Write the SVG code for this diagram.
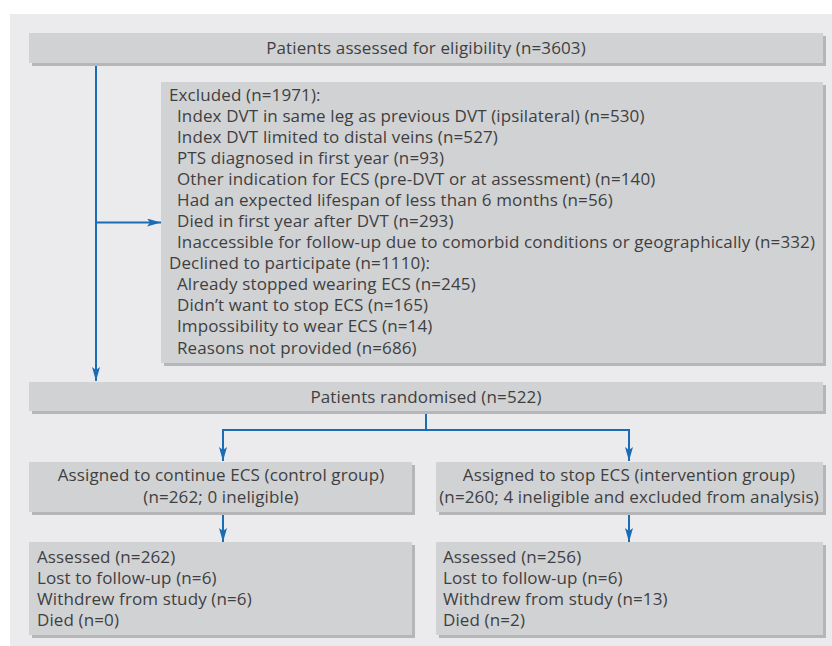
<svg xmlns="http://www.w3.org/2000/svg" width="832" height="646" viewBox="0 0 832 646">
<defs>
<style>
.box{fill:#d1d2d4}
.sh{fill:#b5b6b8}
.t{font-family:"Open Sans","DejaVu Sans",sans-serif;font-size:17px;letter-spacing:0.12px;fill:#3f3f41}
.c{text-anchor:middle}
.ln{fill:none;stroke:#1a6db5;stroke-width:2}
</style>
<marker id="ah" viewBox="0 0 14 8" refX="14" refY="4" markerWidth="14" markerHeight="8" markerUnits="userSpaceOnUse" orient="auto">
<path d="M0,0 L14,4 L0,8 L3,4 Z" fill="#1a6db5"/>
</marker>
</defs>
<rect x="0" y="0" width="832" height="646" fill="#ffffff"/>
<rect x="10" y="14" width="822" height="632" fill="#ebebed"/>

<g id="connectors">
<path class="ln" d="M96,63 V381" marker-end="url(#ah)"/>
<path class="ln" d="M96,222.5 H161" marker-end="url(#ah)"/>
<path class="ln" d="M426,411 V430 H223 V461" marker-end="url(#ah)"/>
<path class="ln" d="M426,430 H629 V461" marker-end="url(#ah)"/>
<path class="ln" d="M223,512 V542" marker-end="url(#ah)"/>
<path class="ln" d="M629,512 V542" marker-end="url(#ah)"/>
</g>

<g id="assessed">
<rect class="sh" x="32" y="36" width="794" height="30"/>
<rect class="box" x="29" y="33" width="794" height="30"/>
<text class="t c" x="426" y="54">Patients assessed for eligibility (n=3603)</text>
</g>

<g id="excluded">
<rect class="sh" x="164" y="85" width="662" height="281"/>
<rect class="box" x="161" y="82" width="662" height="281"/>
<text class="t" x="169" y="101">Excluded (n=1971):</text>
<text class="t" x="177" y="122">Index DVT in same leg as previous DVT (ipsilateral) (n=530)</text>
<text class="t" x="177" y="143">Index DVT limited to distal veins (n=527)</text>
<text class="t" x="177" y="164">PTS diagnosed in first year (n=93)</text>
<text class="t" x="177" y="185">Other indication for ECS (pre-DVT or at assessment) (n=140)</text>
<text class="t" x="177" y="206">Had an expected lifespan of less than 6 months (n=56)</text>
<text class="t" x="177" y="227">Died in first year after DVT (n=293)</text>
<text class="t" x="177" y="248">Inaccessible for follow-up due to comorbid conditions or geographically (n=332)</text>
<text class="t" x="169" y="269">Declined to participate (n=1110):</text>
<text class="t" x="177" y="290">Already stopped wearing ECS (n=245)</text>
<text class="t" x="177" y="311">Didn’t want to stop ECS (n=165)</text>
<text class="t" x="177" y="332">Impossibility to wear ECS (n=14)</text>
<text class="t" x="177" y="354">Reasons not provided (n=686)</text>
</g>

<g id="randomised">
<rect class="sh" x="32" y="385" width="794" height="29"/>
<rect class="box" x="29" y="382" width="794" height="29"/>
<text class="t c" x="426" y="403">Patients randomised (n=522)</text>
</g>

<g id="control">
<rect class="sh" x="32" y="465" width="383" height="50"/>
<rect class="box" x="29" y="462" width="383" height="50"/>
<text class="t c" x="221" y="481">Assigned to continue ECS (control group)</text>
<text class="t c" x="221" y="503">(n=262; 0 ineligible)</text>
</g>

<g id="intervention">
<rect class="sh" x="439" y="465" width="387" height="50"/>
<rect class="box" x="436" y="462" width="387" height="50"/>
<text class="t c" x="629" y="481">Assigned to stop ECS (intervention group)</text>
<text class="t c" x="629" y="503">(n=260; 4 ineligible and excluded from analysis)</text>
</g>

<g id="control-outcome">
<rect class="sh" x="32" y="545" width="383" height="93"/>
<rect class="box" x="29" y="542" width="383" height="93"/>
<text class="t" x="37" y="563">Assessed (n=262)</text>
<text class="t" x="37" y="584">Lost to follow-up (n=6)</text>
<text class="t" x="37" y="605">Withdrew from study (n=6)</text>
<text class="t" x="37" y="626">Died (n=0)</text>
</g>

<g id="intervention-outcome">
<rect class="sh" x="439" y="545" width="387" height="93"/>
<rect class="box" x="436" y="542" width="387" height="93"/>
<text class="t" x="443" y="563">Assessed (n=256)</text>
<text class="t" x="443" y="584">Lost to follow-up (n=6)</text>
<text class="t" x="443" y="605">Withdrew from study (n=13)</text>
<text class="t" x="443" y="626">Died (n=2)</text>
</g>
</svg>
